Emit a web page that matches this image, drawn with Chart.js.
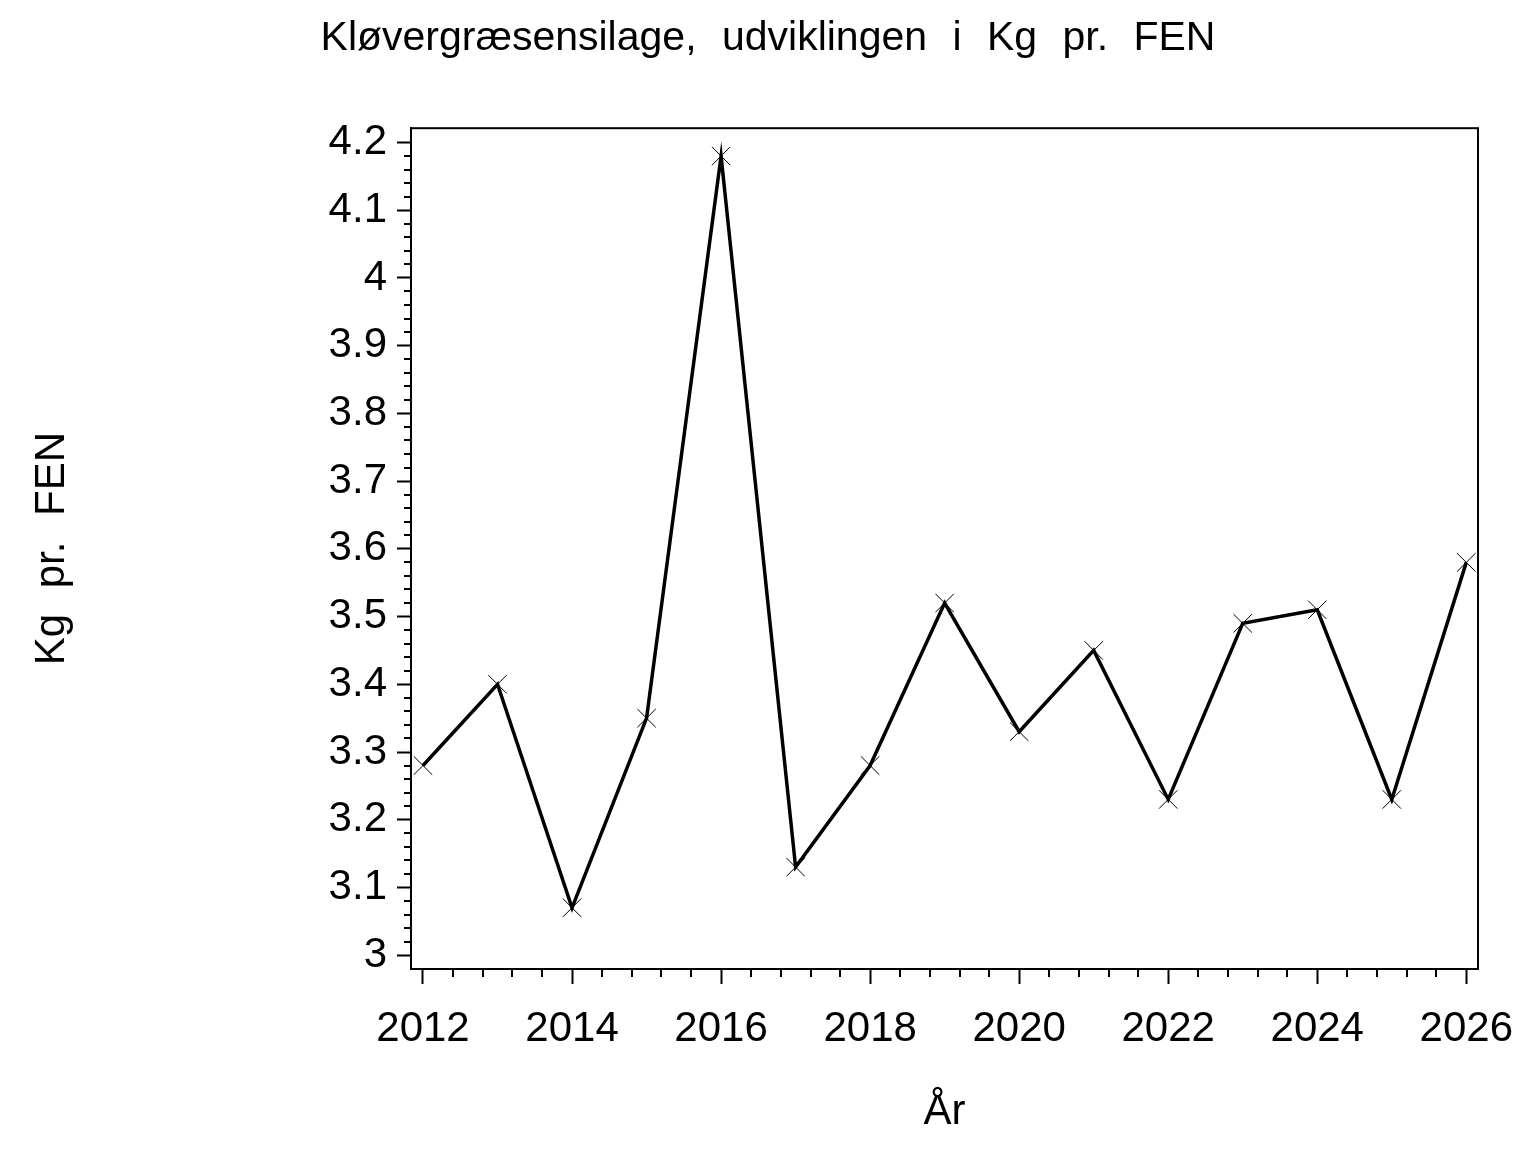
<!DOCTYPE html>
<html>
<head>
<meta charset="utf-8">
<script src="https://cdn.jsdelivr.net/npm/chart.js@4/dist/chart.umd.min.js"></script>
<style>
html,body{margin:0;padding:0;background:#fff;}
canvas{display:block;}
</style>
</head>
<body>
<canvas id="c" width="1536" height="1152"></canvas>
<script>
const years = [2012,2013,2014,2015,2016,2017,2018,2019,2020,2021,2022,2023,2024,2025,2026];
const kgPerFen = [3.28,3.40,3.07,3.35,4.18,3.13,3.28,3.52,3.33,3.45,3.23,3.49,3.51,3.23,3.58];
const xTicks = [2012,2014,2016,2018,2020,2022,2024,2026];
const yTicks = [3,3.1,3.2,3.3,3.4,3.5,3.6,3.7,3.8,3.9,4,4.1,4.2];
const titleText = 'Kløvergræsensilage, udviklingen i Kg pr. FEN';
const xTitle = 'År';
const yTitle = 'Kg pr. FEN';

const FONT = "'Liberation Sans', Arial, Helvetica, sans-serif";

const spacing = {
  id: 'spacing',
  beforeDraw(chart) {
    chart.ctx.wordSpacing = '14px';
  }
};

const frame = {
  id: 'frame',
  afterDraw(chart) {
    const {ctx, chartArea: a, scales} = chart;
    ctx.save();
    ctx.strokeStyle = '#000';
    ctx.lineWidth = 2;
    ctx.strokeRect(a.left, a.top, a.right - a.left, a.bottom - a.top);
    ctx.beginPath();
    const ys = scales.y;
    for (let i = 0; ; i++) {
      const v = 3 + i * 0.02;
      if (v > ys.max - 0.003) break;
      if (i % 5 === 0) continue;
      const p = Math.round(ys.getPixelForValue(v));
      ctx.moveTo(a.left - 7, p);
      ctx.lineTo(a.left, p);
    }
    const xs = scales.x;
    for (let i = 0; ; i++) {
      const v = 2012 + i * 0.4;
      if (v > xs.max - 0.01) break;
      if (i % 5 === 0) continue;
      const p = Math.round(xs.getPixelForValue(v));
      ctx.moveTo(p, a.bottom);
      ctx.lineTo(p, a.bottom + 8);
    }
    ctx.stroke();
    ctx.restore();
  }
};

new Chart(document.getElementById('c'), {
  type: 'line',
  data: {
    datasets: [{
      data: years.map((y, i) => ({x: y, y: kgPerFen[i]})),
      borderColor: '#000',
      borderWidth: 3.5,
      pointStyle: 'crossRot',
      pointRadius: 13,
      pointBorderWidth: 1,
      pointBorderColor: '#000',
      pointBackgroundColor: '#000',
      tension: 0,
      fill: false
    }]
  },
  options: {
    responsive: false,
    animation: false,
    devicePixelRatio: 1,
    layout: { padding: 0 },
    plugins: {
      legend: { display: false },
      tooltip: { enabled: false },
      title: {
        display: true,
        text: titleText,
        color: '#000',
        font: { family: FONT, size: 41, weight: 'normal', lineHeight: 1.2 },
        padding: { top: 14, bottom: 65 }
      }
    },
    scales: {
      x: {
        type: 'linear',
        min: 2011.839,
        max: 2026.157,
        afterBuildTicks: s => { s.ticks = xTicks.map(v => ({value: v})); },
        afterFit: s => { s.height = 183; },
        grid: { drawOnChartArea: false, drawTicks: true, tickLength: 15, tickWidth: 2, tickColor: '#000' },
        border: { display: true, color: '#000', width: 2 },
        ticks: {
          color: '#000', padding: 20, maxRotation: 0, autoSkip: false,
          font: { family: FONT, size: 42 },
          callback: v => String(v)
        },
        title: {
          display: true, text: xTitle, color: '#000',
          font: { family: FONT, size: 42, lineHeight: 1.2 },
          padding: { top: 0, bottom: 14 }
        }
      },
      y: {
        type: 'linear',
        min: 2.9796,
        max: 4.2211,
        afterBuildTicks: s => { s.ticks = yTicks.map(v => ({value: v})); },
        afterFit: s => { s.width = 411; },
        grid: { drawOnChartArea: false, drawTicks: true, tickLength: 14, tickWidth: 2, tickColor: '#000' },
        border: { display: true, color: '#000', width: 2 },
        ticks: {
          color: '#000', padding: 10, autoSkip: false,
          font: { family: FONT, size: 42 },
          callback: v => String(Math.round(v * 10) / 10)
        },
        title: {
          display: true, text: yTitle, color: '#000',
          font: { family: FONT, size: 42, lineHeight: 1.2 },
          padding: { top: 27, bottom: 0 }
        }
      },
      yRight: {
        type: 'linear',
        position: 'right',
        display: true,
        min: 2.9796,
        max: 4.2211,
        afterFit: s => { s.width = 58; },
        grid: { display: false, drawTicks: false },
        border: { display: false },
        ticks: { display: false },
        title: { display: false }
      }
    }
  },
  plugins: [spacing, frame]
});
</script>
</body>
</html>
